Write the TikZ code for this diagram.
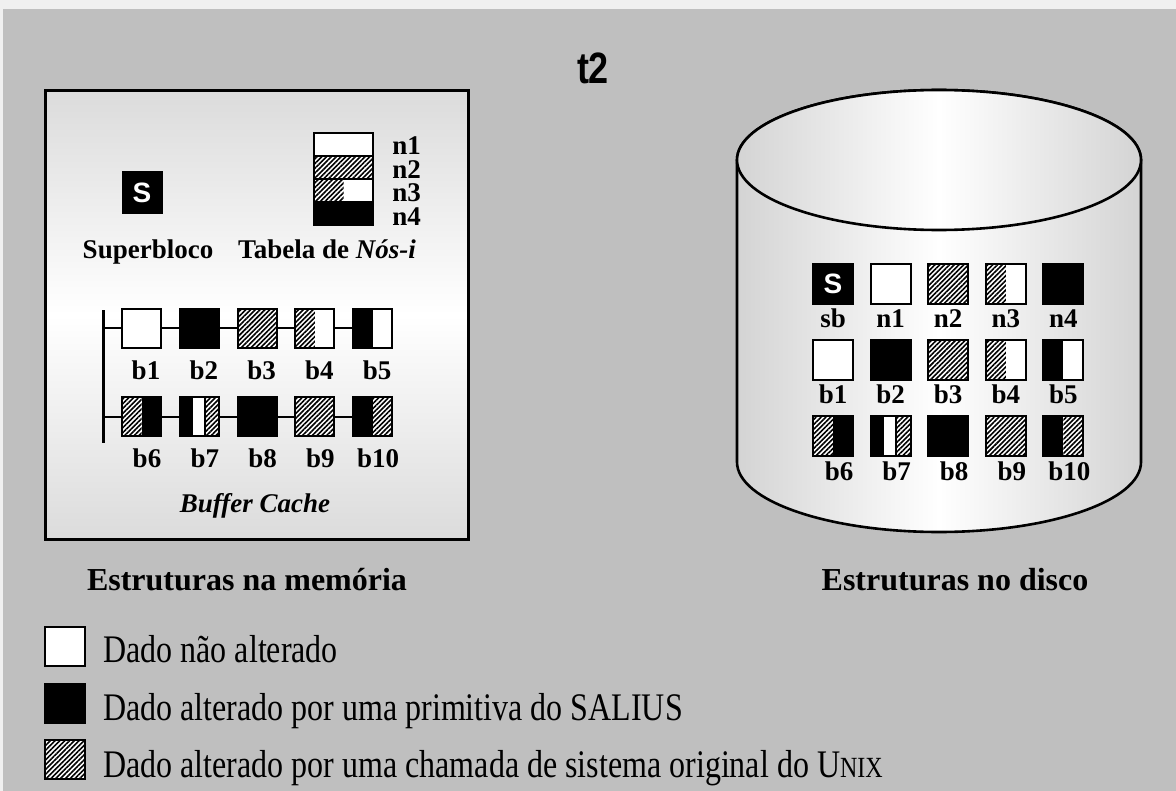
\documentclass[tikz,border=0pt]{standalone}
\usepackage{fontspec}
\setmainfont{Liberation Serif}
\setsansfont{Liberation Sans}
\usepackage{tikz}
\usetikzlibrary{positioning,calc,patterns.meta}

\tikzset{
  hatch/.style={pattern={Lines[angle=45,distance=1.7pt,line width=0.8pt]}, pattern color=black},
  cell/.style={draw=black, line width=1pt, fill=white, minimum width=19.5pt, minimum height=19.5pt, inner sep=0pt},
  clean/.style={cell},
  salius/.style={cell, fill=black},
  unixh/.style={cell, path picture={\fill[hatch] (path picture bounding box.south west) rectangle (path picture bounding box.north east);}},
  hw/.style={cell, path picture={\fill[hatch] (path picture bounding box.south west) rectangle (path picture bounding box.north);}},
  bw/.style={cell, path picture={\fill[black] (path picture bounding box.south west) rectangle (path picture bounding box.north);}},
  hb/.style={cell, path picture={
      \fill[hatch] (path picture bounding box.south west) rectangle (path picture bounding box.north);
      \fill[black] (path picture bounding box.south) rectangle (path picture bounding box.north east);}},
  bh/.style={cell, path picture={
      \fill[black] (path picture bounding box.south west) rectangle (path picture bounding box.north);
      \fill[hatch] (path picture bounding box.south) rectangle (path picture bounding box.north east);}},
  bwh/.style={cell, path picture={
      \fill[black] (path picture bounding box.south west) rectangle ($(path picture bounding box.north west)!0.34!(path picture bounding box.north east)$);
      \fill[hatch] ($(path picture bounding box.south west)!0.64!(path picture bounding box.south east)$) rectangle (path picture bounding box.north east);
      \draw[line width=1pt] ($(path picture bounding box.south west)!0.64!(path picture bounding box.south east)$) -- ($(path picture bounding box.north west)!0.64!(path picture bounding box.north east)$);}},
  inode/.style={minimum width=29.5pt, minimum height=11.5pt},
  lbl/.style={font=\fontsize{13.5}{15}\selectfont\bfseries, inner sep=0pt},
  big/.style={font=\fontsize{16}{18}\selectfont\bfseries, inner sep=0pt},
  legtxt/.style={font=\fontsize{16}{18}\selectfont, inner sep=0pt, anchor=base west},
  sbox/.style={salius, text=white, font=\sffamily\bfseries\fontsize{14}{14}\selectfont},
  link/.style={line width=1pt}
}
\newcommand{\tall}[1]{\scalebox{1}[1.22]{#1}}

\begin{document}
\begin{tikzpicture}[x=0.5pt, y=-0.5pt]
  % background
  \fill[black!6] (0,0) rectangle (1176,791);
  \fill[black!25] (3,9) rectangle (1176,791);

  \node[font=\sffamily\bfseries\fontsize{18}{18}\selectfont, inner sep=0pt] (title) at (593,68) {\tall{t2}};

  % memory
  \draw[line width=1.5pt, top color=black!14, bottom color=black!14, middle color=white] (45,91) rectangle (468,539);

  \node[sbox, minimum height=20.5pt] (smem) at (142,192.5) {S};
  \node[lbl, anchor=base] (lsuper) at (148,258) {Superbloco};

  % inode table
  \foreach \s [count=\i] in {clean,unixh,hw,salius} {
    \node[\s, inode] (it\i) at (343.5,{144.5+23*(\i-1)}) {};
    \node[lbl, anchor=base west] (lit\i) at (392,{155+23.5*(\i-1)}) {n\i};
  }
  \node[lbl, anchor=base] (ltab) at (327,258) {Tabela de \textit{Nós-i}};

  % buffer cache
  \coordinate (bartop) at (103,310);
  \coordinate (barbot) at (103,443);
  \draw[line width=1.5pt] (bartop) -- (barbot);
  \coordinate (bar1) at (103,328);
  \coordinate (bar2) at (103,416.5);
  \foreach \s [count=\i] in {clean,salius,unixh,hw,bw} {
    \node[\s] (m\i) at ({141.5+57.8*(\i-1)},328) {};
    \node[lbl, anchor=base] (lm\i) at ({146+57.8*(\i-1)},379) {b\i};
  }
  \foreach \s [count=\i from 6] in {hb,bwh,salius,unixh,bh} {
    \node[\s] (m\i) at ({141.5+57.8*(\i-6)},416.5) {};
    \node[lbl, anchor=base] (lm\i) at ({147+57.8*(\i-6)},467) {b\i};
  }
  \draw[link] (bar1) -- (m1);
  \draw[link] (bar2) -- (m6);
  \foreach \i/\j in {1/2,2/3,3/4,4/5,6/7,7/8,8/9,9/10}
    \draw[link] (m\i) -- (m\j);
  \node[lbl, anchor=base] (lcache) at (255,512) {\textit{Buffer Cache}};

  \node[big, anchor=base] (lmem) at (247,590) {Estruturas na memória};

  % disk
  \draw[line width=1.3pt, left color=black!17, right color=black!17, middle color=white]
    (737,160) -- (737,462) arc[start angle=180, end angle=0, x radius=202, y radius=70]
    -- (1141,160) arc[start angle=0, end angle=-180, x radius=202, y radius=70] -- cycle;
  \draw[line width=1.3pt, left color=black!17, right color=black!17, middle color=white]
    (939,160) ellipse [x radius=202, y radius=70];

  \node[sbox, minimum width=20pt, minimum height=20pt] (d1) at (833,284) {S};
  \node[lbl, anchor=base] (ld1) at (833,327) {sb};
  \foreach \s [count=\i from 2] in {clean,unixh,hw,salius} {
    \pgfmathtruncatemacro{\k}{\i-1}
    \node[\s, minimum width=20pt, minimum height=20pt] (d\i) at ({833+57.6*(\i-1)},284) {};
    \node[lbl, anchor=base] (ld\i) at ({833+57.6*(\i-1)},327) {n\k};
  }
  \foreach \s [count=\i] in {clean,salius,unixh,hw,bw} {
    \node[\s, minimum width=20pt, minimum height=20pt] (db\i) at ({833+57.6*(\i-1)},360) {};
    \node[lbl, anchor=base] (ldb\i) at ({833+57.6*(\i-1)},403) {b\i};
  }
  \foreach \s [count=\i from 6] in {hb,bwh,salius,unixh,bh} {
    \node[\s, minimum width=20pt, minimum height=20pt] (db\i) at ({833+57.6*(\i-6)},436) {};
    \node[lbl, anchor=base] (ldb\i) at ({839+57.6*(\i-6)},480) {b\i};
  }

  \node[big, anchor=base] (ldisk) at (955,590) {Estruturas no disco};

  % legend
  \node[clean, minimum width=20pt] (leg1) at (65,646.5) {};
  \node[salius, minimum width=20pt] (leg2) at (65,703) {};
  \node[unixh, minimum width=20pt] (leg3) at (65,759.5) {};
  \node[legtxt] (lleg1) at (103,662) {\tall{Dado não alterado}};
  \node[legtxt] (lleg2) at (103,720) {\tall{Dado alterado por uma primitiva do SALIUS}};
  \node[legtxt] (lleg3) at (103,777) {\tall{Dado alterado por uma chamada de sistema original do U{\fontsize{12}{14}\selectfont NIX}}};
\end{tikzpicture}
\end{document}
